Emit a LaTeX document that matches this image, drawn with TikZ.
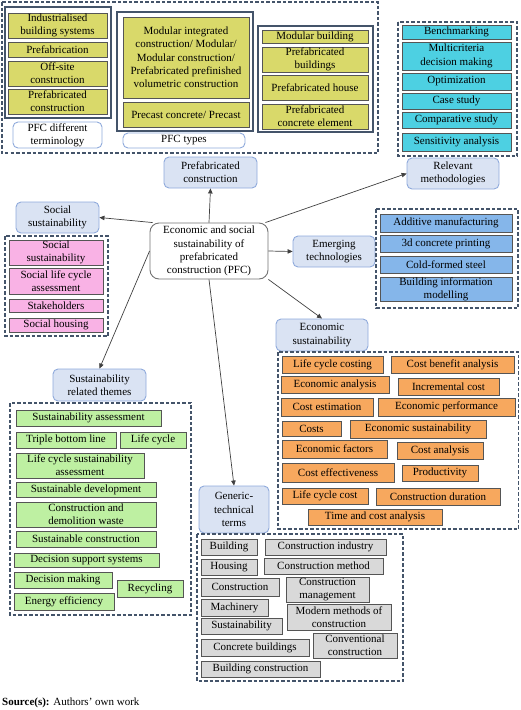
\documentclass[tikz,border=0pt]{standalone}
\usepackage{fontspec}
\setmainfont{Liberation Serif}
\usetikzlibrary{arrows.meta}
\definecolor{cYel}{HTML}{D9D96A}
\definecolor{cCyan}{HTML}{4DD0E2}
\definecolor{cPink}{HTML}{F9B2E5}
\definecolor{cBlue}{HTML}{85B6EA}
\definecolor{cGreen}{HTML}{BEF0A2}
\definecolor{cOrange}{HTML}{F7A85E}
\definecolor{cGray}{HTML}{D9D9D9}
\definecolor{cMain}{HTML}{DAE3F3}
\definecolor{cMainB}{HTML}{8FAADC}
\definecolor{cDash}{HTML}{44546A}
\definecolor{cBord}{HTML}{555555}
\newcommand\bx[7]{\node[#1, minimum width={(#5)-(#3)}, minimum height={(#6)-(#4)}] (#2) at ({((#3)+(#5))/2},{((#4)+(#6))/2}) {#7};}
\tikzset{
  base/.style={draw=cBord, line width=0.9pt, inner sep=0pt, align=center, font=\fontsize{11}{13.3}\selectfont, text=black},
  ybox/.style={base, fill=cYel},
  cbox/.style={base, fill=cCyan},
  pbox/.style={base, fill=cPink},
  bbox/.style={base, fill=cBlue},
  gbox/.style={base, fill=cGreen},
  obox/.style={base, fill=cOrange},
  kbox/.style={base, fill=cGray},
  mainn/.style={base, draw=cMainB, fill=cMain, rounded corners=5pt},
  lab/.style={base, draw=cMainB, fill=white, rounded corners=5pt},
  cen/.style={base, draw=black!55, fill=white, rounded corners=9pt},
  dashbox/.style={draw=cDash, line width=1.1pt, dash pattern=on 3.5pt off 2pt},
  grp/.style={draw=cDash, line width=1.1pt},
  arr/.style={-{Triangle[length=5pt,width=4.5pt]}, line width=0.7pt, draw=black!75},
}
\begin{document}
\begin{tikzpicture}[x=1pt,y=-1pt]
\useasboundingbox (0,0) rectangle (520,710);
% top block
\draw[dashbox] (2,2) rectangle (378,153);
\draw[grp] (5,7) rectangle (111,118);
\draw[grp] (117,12) rectangle (253,131);
\draw[grp] (258,26) rectangle (373,132);
\bx{ybox}{y1}{8}{13}{107}{38}{Industrialised\\building systems}
\bx{ybox}{y2}{8}{42}{107}{57}{Prefabrication}
\bx{ybox}{y3}{8}{61}{107}{86}{Off-site\\construction}
\bx{ybox}{y4}{8}{89}{107}{114}{Prefabricated\\construction}
\bx{lab}{l1}{13}{122}{102}{148}{PFC different\\terminology}
\bx{ybox}{y5}{123}{17}{249}{98}{Modular integrated\\construction/ Modular/\\Modular construction/\\Prefabricated prefinished\\volumetric construction}
\bx{ybox}{y6}{123}{102}{249}{127}{Precast concrete/ Precast}
\bx{lab}{l2}{123}{133}{245}{148}{PFC types}
\bx{ybox}{y7}{262}{30}{368}{43}{Modular building}
\bx{ybox}{y8}{262}{47}{368}{72}{Prefabricated\\buildings}
\bx{ybox}{y9}{262}{75}{368}{100}{Prefabricated house}
\bx{ybox}{y10}{262}{104}{368}{129}{Prefabricated\\concrete element}
% relevant methodologies
\draw[dashbox] (398,22) rectangle (517,156);
\bx{cbox}{m1}{402}{25}{511}{39}{Benchmarking}
\bx{cbox}{m2}{402}{42}{511}{70}{Multicriteria\\decision making}
\bx{cbox}{m3}{402}{73}{511}{90}{Optimization}
\bx{cbox}{m4}{402}{93}{511}{109}{Case study}
\bx{cbox}{m5}{402}{112}{511}{128}{Comparative study}
\bx{cbox}{m6}{402}{133}{511}{151}{Sensitivity analysis}
% main nodes
\bx{mainn}{rm}{407}{158}{499}{189}{Relevant\\methodologies}
\bx{mainn}{pc}{164}{157}{257}{188}{Prefabricated\\construction}
\bx{cen}{c}{150}{223}{268}{279}{Economic and social\\sustainability of\\prefabricated\\construction (PFC)}
\bx{mainn}{et}{293}{236}{375}{267}{Emerging\\technologies}
\bx{mainn}{es}{276}{319}{368}{351}{Economic\\sustainability}
\bx{mainn}{ss}{16}{202}{99}{233}{Social\\sustainability}
\bx{mainn}{srt}{53}{369}{146}{401}{Sustainability\\related themes}
\bx{mainn}{gt}{199}{486}{269}{533}{Generic-\\technical\\terms}
% social
\draw[dashbox] (5,236) rectangle (108,336);
\bx{pbox}{s1}{9}{240}{103}{265}{Social\\sustainability}
\bx{pbox}{s2}{9}{268}{103}{294}{Social life cycle\\assessment}
\bx{pbox}{s3}{9}{299}{103}{312}{Stakeholders}
\bx{pbox}{s4}{9}{318}{103}{332}{Social housing}
% emerging
\draw[dashbox] (376,209) rectangle (518,308);
\bx{bbox}{e1}{380}{214}{512}{232}{Additive manufacturing}
\bx{bbox}{e2}{380}{235}{512}{252}{3d concrete printing}
\bx{bbox}{e3}{380}{256}{512}{273}{Cold-formed steel}
\bx{bbox}{e4}{380}{277}{512}{301}{Building information\\modelling}
% sustainability related themes
\draw[dashbox] (10,403) rectangle (191,615);
\bx{gbox}{g1}{16}{410}{161}{426}{Sustainability assessment}
\bx{gbox}{g2}{16}{432}{116}{448}{Triple bottom line}
\bx{gbox}{g3}{120}{432}{186}{448}{Life cycle}
\bx{gbox}{g4}{16}{453}{144}{478}{Life cycle sustainability\\assessment}
\bx{gbox}{g5}{16}{482}{156}{497}{Sustainable development}
\bx{gbox}{g6}{16}{502}{156}{527}{Construction and\\demolition waste}
\bx{gbox}{g7}{16}{531}{156}{547}{Sustainable construction}
\bx{gbox}{g8}{14}{553}{159}{567}{Decision support systems}
\bx{gbox}{g9}{14}{572}{112}{588}{Decision making}
\bx{gbox}{g10}{117}{580}{183}{597}{Recycling}
\bx{gbox}{g11}{14}{593}{114}{610}{Energy efficiency}
% economic
\draw[dashbox] (278,352) rectangle (518.5,529);
\bx{obox}{o1}{282}{356}{383}{373}{Life cycle costing}
\bx{obox}{o2}{391}{356}{514}{373}{Cost benefit analysis}
\bx{obox}{o3}{281}{376}{389}{393}{Economic analysis}
\bx{obox}{o4}{398}{378}{499}{395}{Incremental cost}
\bx{obox}{o5}{281}{398}{373}{416}{Cost estimation}
\bx{obox}{o6}{378}{398}{515}{416}{Economic performance}
\bx{obox}{o7}{282}{421}{341}{436}{Costs}
\bx{obox}{o8}{350}{420}{486}{438}{Economic sustainability}
\bx{obox}{o9}{282}{440}{387}{458}{Economic factors}
\bx{obox}{o10}{397}{442}{483}{459}{Cost analysis}
\bx{obox}{o11}{282}{463}{394}{482}{Cost effectiveness}
\bx{obox}{o12}{402}{465}{478}{481}{Productivity}
\bx{obox}{o13}{282}{488}{368}{504}{Life cycle cost}
\bx{obox}{o14}{376}{488}{500}{505}{Construction duration}
\bx{obox}{o15}{308}{509}{442}{525}{Time and cost analysis}
% generic technical
\draw[dashbox] (197,534) rectangle (403,681);
\bx{kbox}{k1}{201}{539}{257}{555}{Building}
\bx{kbox}{k2}{265}{539}{386}{555}{Construction industry}
\bx{kbox}{k3}{201}{559}{257}{575}{Housing}
\bx{kbox}{k4}{264}{558}{383}{574}{Construction method}
\bx{kbox}{k5}{201}{578}{279}{596}{Construction}
\bx{kbox}{k6}{286}{577}{369}{602}{Construction\\management}
\bx{kbox}{k7}{201}{599}{268}{616}{Machinery}
\bx{kbox}{k8}{287}{604}{391}{630}{Modern methods of\\construction}
\bx{kbox}{k9}{201}{618}{282}{634}{Sustainability}
\bx{kbox}{k10}{201}{639}{309}{656}{Concrete buildings}
\bx{kbox}{k11}{313}{633}{397}{658}{Conventional\\construction}
\bx{kbox}{k12}{201}{661}{320}{677}{Building construction}
% arrows
\draw[arr] (c.north) -- (pc.south);
\draw[arr] ([xshift=-3pt]c.north east) -- (rm.west);
\draw[arr] ([xshift=3pt]c.north west) -- (ss.east);
\draw[arr] (c.east) -- (et.west);
\draw[arr] (c.south east) -- (es.north);
\draw[arr] (c.west) -- (srt.north);
\draw[arr] (c.south) -- (gt.north);
% source
\node[anchor=west, inner sep=0pt, font=\fontsize{11}{13.3}\selectfont] (src) at (2,703) {\textbf{Source(s):} Authors’ own work};
\end{tikzpicture}
\end{document}
